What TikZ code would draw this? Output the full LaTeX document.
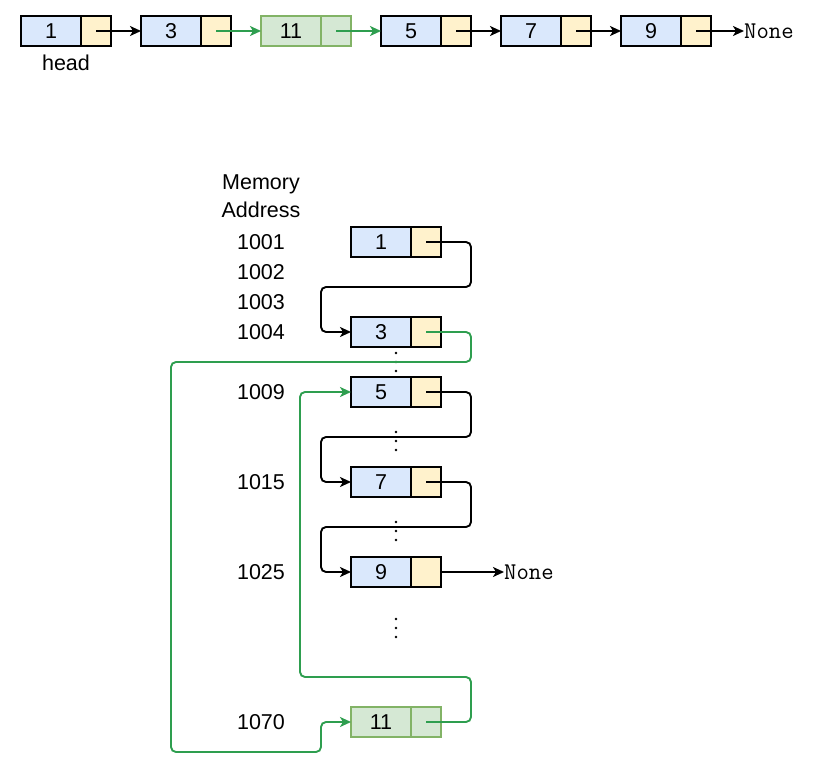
\documentclass[tikz,border=0pt]{standalone}
\usepackage{fontspec}
\setmainfont{Liberation Sans}
\usetikzlibrary{arrows.meta}
\definecolor{cellblue}{HTML}{DAE8FC}
\definecolor{cellyellow}{HTML}{FFF2CC}
\definecolor{cellgreen}{HTML}{D5E8D4}
\definecolor{edgegreen}{HTML}{82B366}
\definecolor{linkgreen}{HTML}{2E9E4F}
\tikzset{
  cell/.style={draw=black, line width=2pt, minimum height=30pt, inner sep=0pt, outer sep=0pt,
    font=\fontsize{21.5}{25}\selectfont},
  datacell/.style={cell, fill=cellblue, minimum width=60pt},
  ptrcell/.style={cell, fill=cellyellow, minimum width=30pt},
  newdata/.style={datacell, fill=cellgreen, draw=edgegreen},
  newptr/.style={ptrcell, fill=cellgreen, draw=edgegreen},
  link/.style={draw=black, line width=1.9pt, rounded corners=5pt,
    -{Stealth[length=11pt,width=10pt,inset=3pt]}},
  glink/.style={link, draw=linkgreen},
  label/.style={font=\fontsize{21.5}{25}\selectfont, inner sep=0pt},
  nonelabel/.style={font=\ttfamily\fontsize{24}{27}\selectfont, inner sep=0pt, anchor=west},
  dot/.style={fill=black, draw=none, circle, inner sep=0pt, minimum size=2.8pt},
}
% \listnode{name}{x of left edge}{y of centre}{value}{data style}{pointer style}
\newcommand{\listnode}[6]{%
  \node[#5, anchor=west] (#1) at (#2,#3) {#4};
  \node[#6, anchor=west] (#1p) at (#1.east) {};
}
\newcommand{\vdotsat}[2]{%
  \foreach \k in {0,1,2} \node[dot] at (#1,#2+\k*9) {};
}
\begin{document}
\begin{tikzpicture}[x=1pt,y=-1pt]
\useasboundingbox (0,0) rectangle (820,781);

% ---- logical order of the list ----
\listnode{t1}{21}{31}{1}{datacell}{ptrcell}
\listnode{t3}{141}{31}{3}{datacell}{ptrcell}
\listnode{t11}{261}{31}{11}{newdata}{newptr}
\listnode{t5}{381}{31}{5}{datacell}{ptrcell}
\listnode{t7}{501}{31}{7}{datacell}{ptrcell}
\listnode{t9}{621}{31}{9}{datacell}{ptrcell}
\node[nonelabel] (tnone) at (744,31) {None};
\node[label] (head) at (66,63) {head};

\draw[link] (t1p.center) -- (t3.west);
\draw[glink] (t3p.center) -- (t11.west);
\draw[glink] (t11p.center) -- (t5.west);
\draw[link] (t5p.center) -- (t7.west);
\draw[link] (t7p.center) -- (t9.west);
\draw[link] (t9p.center) -- (tnone.west);

% ---- layout in memory ----
\node[label] (mem) at (261,184) {Memory};
\node[label] (addr) at (261,210) {Address};
\node[label] (a1001) at (261,242) {1001};
\node[label] (a1002) at (261,272) {1002};
\node[label] (a1003) at (261,302) {1003};
\node[label] (a1004) at (261,332) {1004};
\node[label] (a1009) at (261,392) {1009};
\node[label] (a1015) at (261,482) {1015};
\node[label] (a1025) at (261,572) {1025};
\node[label] (a1070) at (261,722) {1070};

\listnode{m1}{351}{242}{1}{datacell}{ptrcell}
\listnode{m3}{351}{332}{3}{datacell}{ptrcell}
\listnode{m5}{351}{392}{5}{datacell}{ptrcell}
\listnode{m7}{351}{482}{7}{datacell}{ptrcell}
\listnode{m9}{351}{572}{9}{datacell}{ptrcell}
\listnode{m11}{351}{722}{11}{newdata}{newptr}
\node[nonelabel] (mnone) at (504,572) {None};

\vdotsat{396}{353}
\vdotsat{396}{432}
\vdotsat{396}{522}
\vdotsat{396}{619}

\draw[link] (m1p.center) -- (471,242) -- (471,287) -- (321,287) -- (321,332) -- (m3.west);
\draw[glink] (m3p.center) -- (471,332) -- (471,362) -- (171,362) -- (171,752) -- (321,752) -- (321,722) -- (m11.west);
\draw[glink] (m11p.center) -- (471,722) -- (471,677) -- (300,677) -- (300,392) -- (m5.west);
\draw[link] (m5p.center) -- (471,392) -- (471,437) -- (321,437) -- (321,482) -- (m7.west);
\draw[link] (m7p.center) -- (471,482) -- (471,527) -- (321,527) -- (321,572) -- (m9.west);
\draw[link] (m9p.east) -- (mnone.west);
\end{tikzpicture}
\end{document}
